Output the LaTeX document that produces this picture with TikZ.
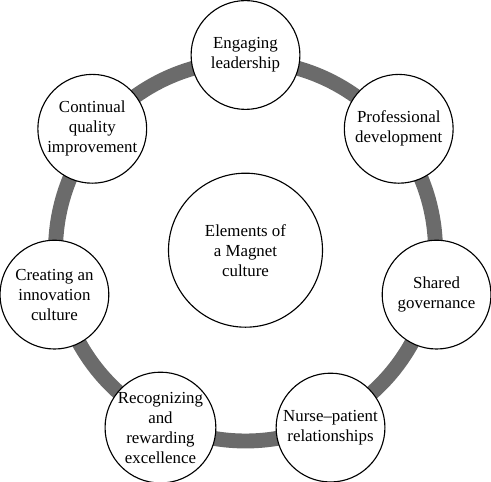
\documentclass[tikz,border=0pt]{standalone}
\usepackage{fontspec}
\setmainfont{Liberation Serif}
\definecolor{ringgray}{gray}{0.42}
\tikzset{
  elem/.style={circle,draw,line width=0.8pt,fill=white,minimum size=2.72cm,inner sep=0pt,align=center,
    font=\fontsize{12}{14.2}\selectfont},
  core/.style={elem,minimum size=3.85cm}
}
\begin{document}
\begin{tikzpicture}
\useasboundingbox (-6.1375,-5.775) rectangle (6.1375,6.275);
\draw[ringgray,line width=10.6pt] (0,0) circle (4.75);
\node[core] (magnet) at (0,0.02) {Elements of\\a Magnet\\culture};
\foreach \k/\txt in {0/{Engaging\\leadership},1/{Professional\\development},2/{Shared\\governance},
  3/{Nurse--patient\\relationships},4/{Recognizing\\and\\rewarding\\excellence},
  5/{Creating an\\innovation\\culture},6/{Continual\\quality\\improvement}}
  \node[elem] (e\k) at ({90-\k*360/7}:4.9) {\txt};
\end{tikzpicture}
\end{document}
